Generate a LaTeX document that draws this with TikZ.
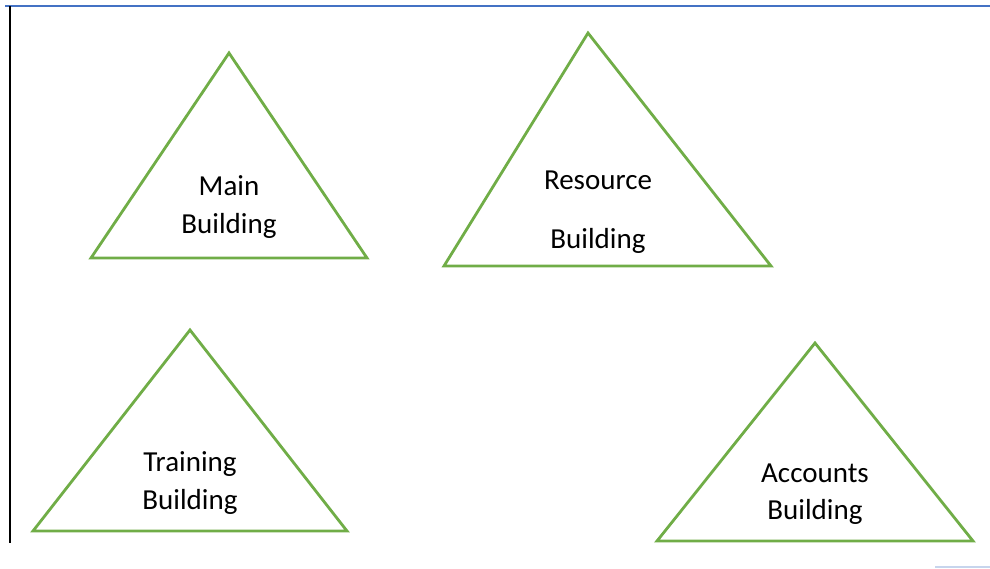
\documentclass[tikz,border=0pt]{standalone}
\usepackage{fontspec}
\setmainfont{Carlito}
\usetikzlibrary{positioning}

\definecolor{bldgreen}{HTML}{70AD47}
\definecolor{edgeblue}{HTML}{4472C4}

\begin{document}
\begin{tikzpicture}[
    x=1pt, y=-1pt,
    building/.style={
        draw=bldgreen,
        line width=2.8pt,
        line join=miter
    },
    label/.style={
        align=center,
        inner sep=0pt,
        font=\fontsize{29}{37.5}\selectfont
    }
]
\useasboundingbox (0,0) rectangle (990,568);

% --- page edges ---
\draw[edgeblue, line width=2pt] (5,6) -- (990,6);
\draw[black, line width=1.2pt] (10,6) -- (10,543);
\draw[edgeblue!30, line width=1.5pt] (935,567) -- (990,567);

% --- Main Building ---
\coordinate (mainTop) at (229,53);
\coordinate (mainL) at (91,258);
\coordinate (mainR) at (367,258);
\draw[building] (mainTop) -- (mainL) -- (mainR) -- cycle;
\node[label] (mainText) at (229,207) {Main\\Building};

% --- Resource Building ---
\coordinate (resTop) at (588,33);
\coordinate (resL) at (444,266);
\coordinate (resR) at (771,266);
\draw[building] (resTop) -- (resL) -- (resR) -- cycle;
\node[label] (resText) at (598,212) {Resource\\[21pt]Building};

% --- Training Building ---
\coordinate (trainTop) at (190,330);
\coordinate (trainL) at (33,531);
\coordinate (trainR) at (347,531);
\draw[building] (trainTop) -- (trainL) -- (trainR) -- cycle;
\node[label] (trainText) at (190,483) {Training\\Building};

% --- Accounts Building ---
\coordinate (accTop) at (815,343);
\coordinate (accL) at (657,541);
\coordinate (accR) at (973,541);
\draw[building] (accTop) -- (accL) -- (accR) -- cycle;
\node[label] (accText) at (815,494) {Accounts\\Building};

\end{tikzpicture}
\end{document}
